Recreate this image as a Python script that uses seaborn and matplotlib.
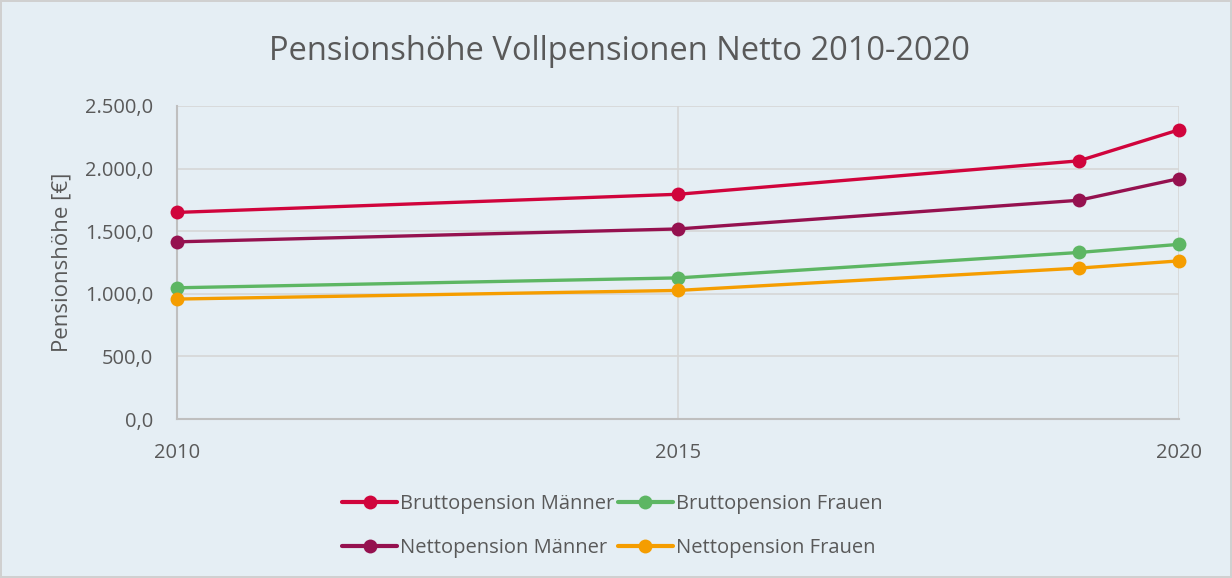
import pandas as pd
import seaborn as sns
import matplotlib.pyplot as plt
from matplotlib.ticker import FuncFormatter

jahre = [2010, 2015, 2019, 2020]
brutto_maenner = [1650, 1795, 2062, 2310]
netto_maenner = [1415, 1518, 1747, 1920]
brutto_frauen = [1048, 1127, 1330, 1395]
netto_frauen = [958, 1027, 1205, 1263]

serien = ['Bruttopension Männer', 'Nettopension Männer',
          'Bruttopension Frauen', 'Nettopension Frauen']
farben = ['#D0043C', '#95114F', '#5DB663', '#F59D00']

BG = '#E5EEF4'
TXT = '#595959'


def fmt_de(v, pos):
    s = f'{v:,.1f}'
    return s.replace(',', 'X').replace('.', ',').replace('X', '.')


if __name__ == "__main__":
    sns.set_theme(style='whitegrid')
    plt.rcParams['font.family'] = ['Open Sans', 'DejaVu Sans']

    df = pd.DataFrame({
        'Jahr': jahre * 4,
        'Wert': brutto_maenner + netto_maenner + brutto_frauen + netto_frauen,
        'Serie': [s for s in serien for _ in jahre],
    })

    fig = plt.figure(figsize=(12.32, 5.78), dpi=100, facecolor=BG,
                     edgecolor='#D0D0D0', linewidth=1.5)
    ax = fig.add_axes([177 / 1232, 1 - 419 / 578, (1179 - 177) / 1232, (419 - 106) / 578])
    ax.set_facecolor(BG)

    sns.lineplot(data=df, x='Jahr', y='Wert', hue='Serie', hue_order=serien,
                 palette=farben, marker='o', markersize=10, markeredgewidth=0,
                 linewidth=2.4, ax=ax, clip_on=False, zorder=3)

    ax.set_xlim(2010, 2020)
    ax.set_ylim(0, 2500)
    ax.set_xticks([2010, 2015, 2020])
    ax.set_yticks(range(0, 2501, 500))
    ax.yaxis.set_major_formatter(FuncFormatter(fmt_de))
    ax.grid(True, color='#D6D6D6', linewidth=1.2)
    for side, sp in ax.spines.items():
        sp.set_visible(side in ('left', 'bottom'))
        sp.set_color('#BFBFBF')
        sp.set_linewidth(1.5)
    ax.tick_params(axis='both', colors=TXT, labelsize=14.5, length=0)
    ax.tick_params(axis='x', pad=17)
    ax.tick_params(axis='y', pad=17)
    ax.set_xlabel('')
    ax.set_ylabel('Pensionshöhe [€]', color=TXT, fontsize=16, labelpad=9)

    fig.text(0.503, 1 - 52 / 578, 'Pensionshöhe Vollpensionen Netto 2010-2020',
             ha='center', va='center', fontsize=23.5, color=TXT)

    handles, labels = ax.get_legend_handles_labels()
    ax.get_legend().remove()
    for h in handles:
        h.set_linewidth(3)
    fig.legend(handles, labels, ncol=2, loc='center', bbox_to_anchor=(0.497, 1 - 526 / 578),
               frameon=False, fontsize=14.5, labelcolor=TXT, handlelength=2.7,
               handletextpad=0.15, columnspacing=0.2, labelspacing=1.2)

    fig.savefig('out.png', dpi=100, facecolor=BG, edgecolor='#D0D0D0')
